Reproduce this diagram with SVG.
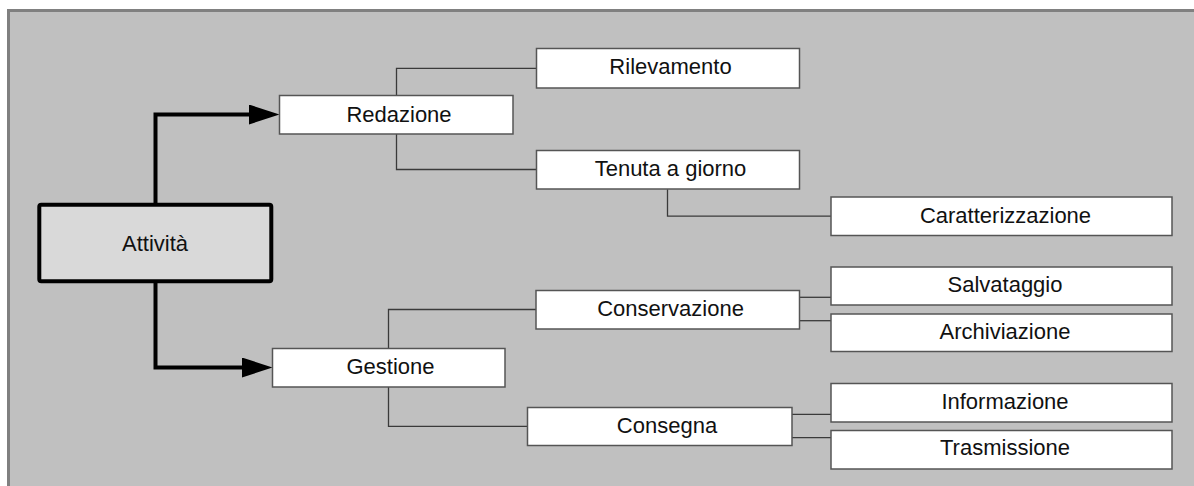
<svg xmlns="http://www.w3.org/2000/svg" width="1194" height="486" viewBox="0 0 1194 486">
<style>
.box{fill:#ffffff;stroke:#555555;stroke-width:1.5}
.root{fill:#d9d9d9;stroke:#000000;stroke-width:4}
.lbl{font-family:"Liberation Sans",Arial,sans-serif;font-size:22px;fill:#111111;text-anchor:middle}
.thin{fill:none;stroke:#3a3a3a;stroke-width:1.3}
.thick{fill:none;stroke:#000000;stroke-width:4}
</style>
<defs>
<marker id="ah" markerUnits="userSpaceOnUse" markerWidth="31" markerHeight="21" refX="0" refY="10" orient="auto" viewBox="0 0 31 21">
<path d="M0,0 L30.5,10 L0,20 z" fill="#000000"/>
</marker>
</defs>
<rect x="0" y="0" width="1194" height="486" fill="#ffffff"/>
<rect x="8.5" y="10.5" width="1200" height="490" fill="#c0c0c0" stroke="#808080" stroke-width="3"/>
<g id="connectors">
<path class="thick" d="M155.5,204 V114.5 H249" marker-end="url(#ah)"/>
<path class="thick" d="M155.5,282 V367.5 H242" marker-end="url(#ah)"/>
<path class="thin" d="M537,68.3 H396.5 V95.3"/>
<path class="thin" d="M396.5,134 V169.5 H537"/>
<path class="thin" d="M667.5,189.3 V216.2 H831"/>
<path class="thin" d="M536,309.5 H388.5 V348.3"/>
<path class="thin" d="M388.5,387 V426.3 H528"/>
<path class="thin" d="M800,297.3 H831"/>
<path class="thin" d="M800,320.7 H831"/>
<path class="thin" d="M792,414.3 H831"/>
<path class="thin" d="M792,437.7 H831"/>
</g>
<g id="attivita">
<rect class="root" x="39.3" y="204.7" width="232" height="76.6" rx="2"/>
<text class="lbl" x="155" y="251">Attività</text>
</g>
<g id="redazione">
<rect class="box" x="279.5" y="95.5" width="233.5" height="38.5"/>
<text class="lbl" x="399" y="121.5">Redazione</text>
</g>
<g id="rilevamento">
<rect class="box" x="536.5" y="48.5" width="263" height="39.5"/>
<text class="lbl" x="670.5" y="74.3">Rilevamento</text>
</g>
<g id="tenuta">
<rect class="box" x="536.5" y="150.5" width="263" height="38.5"/>
<text class="lbl" x="670.5" y="176">Tenuta a giorno</text>
</g>
<g id="caratterizzazione">
<rect class="box" x="831" y="197" width="341" height="38.5"/>
<text class="lbl" x="1005.5" y="222.5">Caratterizzazione</text>
</g>
<g id="gestione">
<rect class="box" x="272.5" y="348.5" width="232.5" height="38.5"/>
<text class="lbl" x="390.5" y="374">Gestione</text>
</g>
<g id="conservazione">
<rect class="box" x="536" y="290.5" width="263.5" height="38.5"/>
<text class="lbl" x="670.5" y="315.5">Conservazione</text>
</g>
<g id="consegna">
<rect class="box" x="527.5" y="407.5" width="264.5" height="38"/>
<text class="lbl" x="667" y="432.5">Consegna</text>
</g>
<g id="salvataggio">
<rect class="box" x="831" y="267" width="341" height="38"/>
<text class="lbl" x="1005" y="291.5">Salvataggio</text>
</g>
<g id="archiviazione">
<rect class="box" x="831" y="314" width="341" height="37.5"/>
<text class="lbl" x="1005" y="338.5">Archiviazione</text>
</g>
<g id="informazione">
<rect class="box" x="831" y="383.5" width="341" height="38.5"/>
<text class="lbl" x="1005" y="408.7">Informazione</text>
</g>
<g id="trasmissione">
<rect class="box" x="831" y="430.5" width="341" height="38.5"/>
<text class="lbl" x="1005" y="455.3">Trasmissione</text>
</g>
</svg>
